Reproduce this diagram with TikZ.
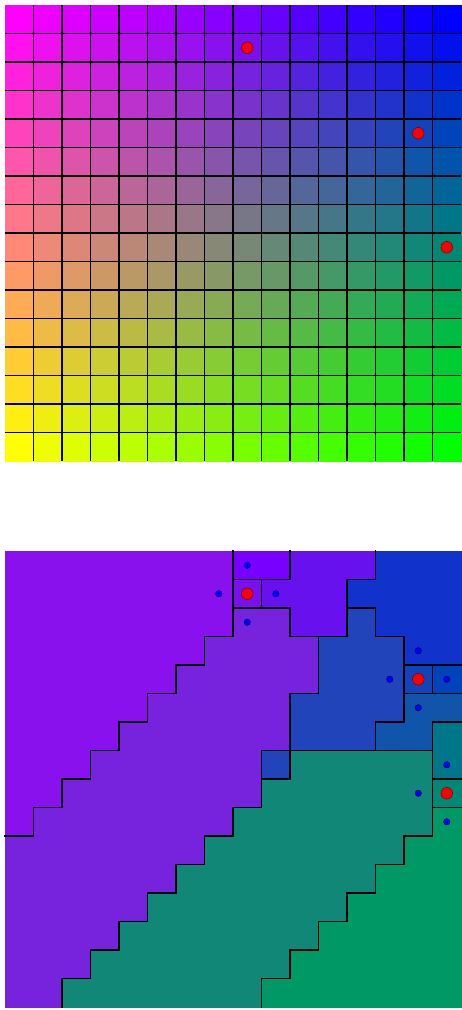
\documentclass[tikz,border=0pt]{standalone}
\begin{document}
\begin{tikzpicture}[x=28.5pt, y=-28.5pt,
    gridline/.style={black, line width=1.25pt},
    cut/.style={black, line width=1.25pt, line cap=rect},
    hit/.style={fill=red, draw=black!55!red, line width=0.5pt},
    probe/.style={fill=blue, draw=black!60!blue, line width=0.5pt}]
  \useasboundingbox (-0.1754,-0.1754) rectangle (16,35.263);

  % which seed every cell of the lower panel belongs to
  \def\regionmap{{%
{0,0,0,0,0,0,0,0,1,1,3,3,3,5,5,5},%
{0,0,0,0,0,0,0,0,2,3,3,3,5,5,5,5},%
{0,0,0,0,0,0,0,0,4,4,3,3,6,5,5,5},%
{0,0,0,0,0,0,0,4,4,4,4,6,6,6,5,5},%
{0,0,0,0,0,0,4,4,4,4,4,6,6,6,7,8},%
{0,0,0,0,0,4,4,4,4,4,6,6,6,6,9,9},%
{0,0,0,0,4,4,4,4,4,4,6,6,6,9,9,10},%
{0,0,0,4,4,4,4,4,4,6,11,11,11,11,11,10},%
{0,0,4,4,4,4,4,4,4,11,11,11,11,11,11,12},%
{0,4,4,4,4,4,4,4,11,11,11,11,11,11,11,13},%
{4,4,4,4,4,4,4,11,11,11,11,11,11,11,13,13},%
{4,4,4,4,4,4,11,11,11,11,11,11,11,13,13,13},%
{4,4,4,4,4,11,11,11,11,11,11,11,13,13,13,13},%
{4,4,4,4,11,11,11,11,11,11,11,13,13,13,13,13},%
{4,4,4,11,11,11,11,11,11,11,13,13,13,13,13,13},%
{4,4,11,11,11,11,11,11,11,13,13,13,13,13,13,13}}}
  \def\seedcol{{7,8,8,9,8,14,13,14,15,14,15,14,15,15}}
  \def\seedrow{{1,0,1,1,2,3,4,4,4,5,7,8,8,9}}

  % Panel superior: rejilla de colores
  \foreach \r in {0,...,15} {
    \foreach \c in {0,...,15} {
      \pgfmathtruncatemacro\valr{round(255*(15-\c)/15)}
      \pgfmathtruncatemacro\valg{round(255*\r/15)}
      \pgfmathtruncatemacro\valb{255-\valg}
      \definecolor{cellfill}{RGB}{\valr,\valg,\valb}
      \fill[cellfill] (\c,\r) rectangle ++(1.03,1.03);
    }
  }
  \foreach \i in {1,...,15} {
    \draw[gridline] (\i,0) -- (\i,16);
    \draw[gridline] (0,\i) -- (16,\i);
  }
  \filldraw[hit] (8.5,1.5) circle (5.8pt);
  \filldraw[hit] (14.5,4.5) circle (5.8pt);
  \filldraw[hit] (15.5,8.5) circle (5.8pt);

  % Panel inferior: regiones
  \begin{scope}[yshift=-546pt]
    \foreach \r in {0,...,15} {
      \foreach \c in {0,...,15} {
        \pgfmathtruncatemacro\lab{\regionmap[\r][\c]}
        \pgfmathtruncatemacro\scol{\seedcol[\lab]}
        \pgfmathtruncatemacro\srow{\seedrow[\lab]}
        \pgfmathtruncatemacro\valr{round(255*(15-\scol)/15)}
        \pgfmathtruncatemacro\valg{round(255*\srow/15)}
        \pgfmathtruncatemacro\valb{255-\valg}
        \definecolor{cellfill}{RGB}{\valr,\valg,\valb}
        \fill[cellfill] (\c,\r) rectangle ++(1.03,1.03);
      }
    }
    % bordes entre regiones
    \foreach \r in {0,...,15} {
      \foreach \c in {0,...,14} {
        \pgfmathtruncatemacro\cn{\c+1}
        \pgfmathtruncatemacro\cutv{\regionmap[\r][\c]!=\regionmap[\r][\cn]}
        \ifnum\cutv=1 \draw[cut] (\cn,\r) -- ++(0,1); \fi
        \pgfmathtruncatemacro\cuth{\regionmap[\c][\r]!=\regionmap[\cn][\r]}
        \ifnum\cuth=1 \draw[cut] (\r,\cn) -- ++(1,0); \fi
      }
    }
    % vecinos y semillas
    \foreach \p in {(8.5,0.5),(7.5,1.5),(9.5,1.5),(8.5,2.5),
                    (14.5,3.5),(13.5,4.5),(15.5,4.5),(14.5,5.5),
                    (15.5,7.5),(14.5,8.5),(15.5,9.5)}
      \filldraw[probe] \p circle (3.2pt);
    \filldraw[hit] (8.5,1.5) circle (5.8pt);
    \filldraw[hit] (14.5,4.5) circle (5.8pt);
    \filldraw[hit] (15.5,8.5) circle (5.8pt);
  \end{scope}
\end{tikzpicture}
\end{document}
